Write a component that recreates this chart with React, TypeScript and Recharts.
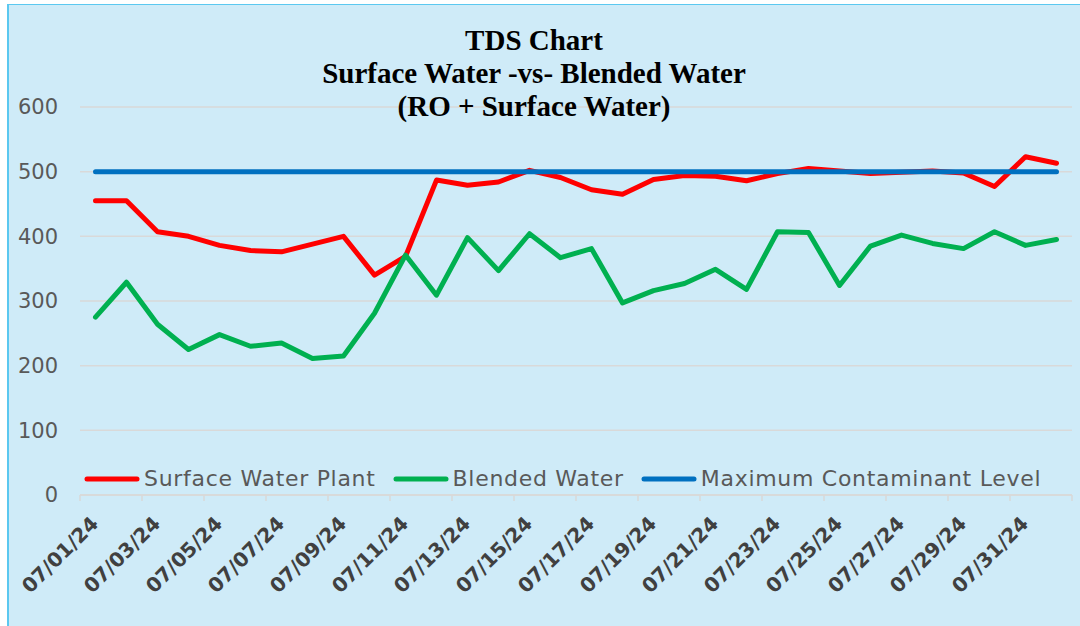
import React from 'react';
import {
  LineChart,
  Line,
  XAxis,
  YAxis,
  CartesianGrid,
  Legend
} from 'recharts';

const dates = [
  '07/01/24', '07/02/24', '07/03/24', '07/04/24', '07/05/24', '07/06/24', '07/07/24', '07/08/24',
  '07/09/24', '07/10/24', '07/11/24', '07/12/24', '07/13/24', '07/14/24', '07/15/24', '07/16/24',
  '07/17/24', '07/18/24', '07/19/24', '07/20/24', '07/21/24', '07/22/24', '07/23/24', '07/24/24',
  '07/25/24', '07/26/24', '07/27/24', '07/28/24', '07/29/24', '07/30/24', '07/31/24', '08/01/24'
];

const surfaceWater = [
  455, 455, 407, 400, 386, 378, 376, 388, 400, 340, 369, 487, 479, 484, 502, 491,
  472, 465, 488, 494, 493, 486, 497, 505, 501, 497, 499, 501, 498, 477, 523, 513
];

const blendedWater = [
  275, 329, 264, 225, 248, 230, 235, 211, 215, 281, 371, 309, 398, 347, 404, 367,
  381, 297, 316, 327, 349, 318, 407, 406, 324, 385, 402, 389, 381, 407, 386, 395
];

const maxLevel = [
  500, 500, 500, 500, 500, 500, 500, 500, 500, 500, 500, 500, 500, 500, 500, 500,
  500, 500, 500, 500, 500, 500, 500, 500, 500, 500, 500, 500, 500, 500, 500, 500
];

const seriesNames = ['Surface Water Plant', 'Blended Water', 'Maximum Contaminant Level'];

const yTicks = [0, 100, 200, 300, 400, 500, 600];

const titleLines = ['TDS Chart', 'Surface Water -vs- Blended Water', '(RO + Surface Water)'];

const data = dates.map((d, i) => ({
  date: d,
  surface: surfaceWater[i],
  blended: blendedWater[i],
  mcl: maxLevel[i]
}));

const LABEL_FONT = '"DejaVu Sans", sans-serif';
const HALF_BAND = 15.5;

// every other date gets a label; tick marks sit between category pairs
const DateTick = ({ x, y, payload, index }: any) => {
  const last = index === dates.length - 1;
  return (
    <g>
      {index % 2 === 0 && (
        <line x1={x - HALF_BAND} y1={y} x2={x - HALF_BAND} y2={y + 6} stroke="#d9d9d9" strokeWidth={1.5} />
      )}
      {last && (
        <line x1={x + HALF_BAND} y1={y} x2={x + HALF_BAND} y2={y + 6} stroke="#d9d9d9" strokeWidth={1.5} />
      )}
      {index % 2 === 0 && (
        <text
          x={x + 4}
          y={y + 30}
          transform={`rotate(-45, ${x + 4}, ${y + 30})`}
          textAnchor="end"
          fill="#404040"
          fontSize={20}
          fontWeight="bold"
          fontFamily={LABEL_FONT}
        >
          {payload.value}
        </text>
      )}
    </g>
  );
};

const LegendContent = ({ payload }: any) => {
  const items = [...(payload || [])].sort(
    (a: any, b: any) => seriesNames.indexOf(a.value) - seriesNames.indexOf(b.value)
  );
  return (
    <div
      style={{
        display: 'flex',
        alignItems: 'center',
        fontFamily: LABEL_FONT,
        fontSize: 22,
        letterSpacing: 0.7,
        color: '#595959',
        whiteSpace: 'nowrap'
      }}
    >
      {items.map((entry: any, i: number) => (
        <div key={i} style={{ display: 'flex', alignItems: 'center', marginRight: 17 }}>
          <svg width={56} height={8} style={{ marginRight: 4 }}>
            <line x1={3} y1={4} x2={53} y2={4} stroke={entry.color} strokeWidth={5} strokeLinecap="round" />
          </svg>
          <span style={{ lineHeight: '24px' }}>{entry.value}</span>
        </div>
      ))}
    </div>
  );
};

export default function App() {
  return (
    <div
      style={{
        position: 'absolute',
        left: 7,
        top: 4,
        width: 1073,
        height: 622,
        background: '#cfebf8',
        boxShadow: 'inset 2px 1px 0 #5bc8f0'
      }}
    >
      <LineChart width={1073} height={622} data={data} margin={{ top: 103, right: 8, left: 0, bottom: 0 }}>
        <CartesianGrid vertical={false} stroke="#d9d9d9" strokeWidth={1.5} />
        <XAxis
          dataKey="date"
          scale="point"
          padding={{ left: HALF_BAND, right: HALF_BAND }}
          interval={0}
          height={131}
          tickSize={0}
          tickMargin={0}
          axisLine={{ stroke: '#d9d9d9', strokeWidth: 1.5 }}
          tickLine={false}
          tick={<DateTick />}
        />
        <YAxis
          width={73}
          domain={[0, 600]}
          ticks={yTicks}
          axisLine={false}
          tickLine={false}
          tickSize={0}
          tickMargin={22}
          tick={{ fill: '#595959', fontSize: 21, fontFamily: LABEL_FONT }}
        />
        <Legend
          layout="horizontal"
          verticalAlign="middle"
          align="center"
          content={<LegendContent />}
          wrapperStyle={{ left: 77, top: 463, width: 'auto' }}
        />
        <Line
          dataKey="surface"
          name={seriesNames[0]}
          stroke="#ff0000"
          strokeWidth={5}
          strokeLinecap="round"
          strokeLinejoin="round"
          dot={false}
          isAnimationActive={false}
        />
        <Line
          dataKey="blended"
          name={seriesNames[1]}
          stroke="#00b050"
          strokeWidth={5}
          strokeLinecap="round"
          strokeLinejoin="round"
          dot={false}
          isAnimationActive={false}
        />
        <Line
          dataKey="mcl"
          name={seriesNames[2]}
          stroke="#0070c0"
          strokeWidth={5}
          strokeLinecap="round"
          strokeLinejoin="round"
          dot={false}
          isAnimationActive={false}
        />
      </LineChart>
      <div
        style={{
          position: 'absolute',
          left: 0,
          top: 20,
          width: 1054,
          textAlign: 'center',
          fontFamily: '"Liberation Serif", "Times New Roman", serif',
          fontWeight: 'bold',
          fontSize: 29,
          lineHeight: '33px',
          color: '#000',
          pointerEvents: 'none'
        }}
      >
        {titleLines.map((t, i) => (
          <div key={i}>{t}</div>
        ))}
      </div>
    </div>
  );
}
